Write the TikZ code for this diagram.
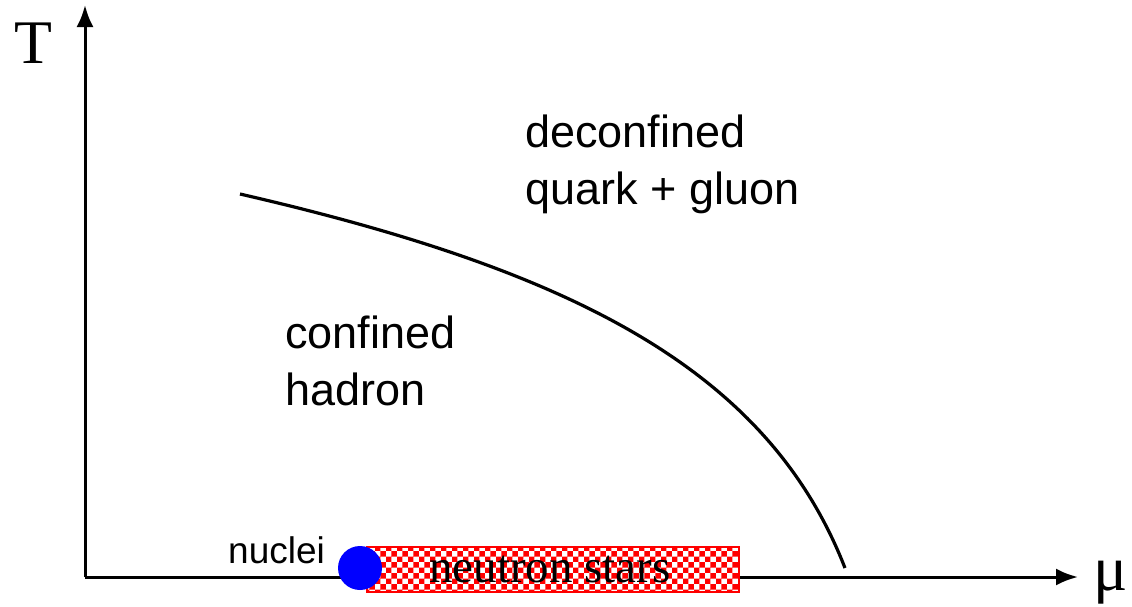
\documentclass[tikz,border=0pt]{standalone}
\usepackage{fontspec}
\setmainfont{Liberation Serif}
\newfontfamily\labelsans{Liberation Sans}
\usetikzlibrary{arrows.meta,patterns}
\begin{document}
\begin{tikzpicture}[x=1pt,y=-1pt,
  axis/.style={line width=3pt,-{Latex[length=22pt,width=17pt]}},
  region/.style={anchor=base west,inner sep=0pt,font=\labelsans\fontsize{45}{56}\selectfont},
  serifbig/.style={inner sep=0pt,anchor=base west}]
\useasboundingbox (0,0) rectangle (1132,606);
\coordinate (O) at (85,577);
\coordinate (Ttip) at (85,5);
\coordinate (Mtip) at (1078,577);
\draw[axis] (O) -- (Ttip);
\draw[axis] (O) -- (Mtip);
\node[serifbig,font=\fontsize{62}{62}\selectfont] (T) at (14,63) {T};
\node[serifbig,font=\fontsize{64}{64}\selectfont] (mu) at (1093,590) {μ};
\coordinate (cstart) at (240,194);
\coordinate (cend) at (845,568);
\draw[line width=3.2pt] (cstart) .. controls (570,270) and (767,368) .. (cend);
\node[region] (deconf1) at (525,147) {deconfined};
\node[region] (deconf2) at (525,204) {quark + gluon};
\node[region] (conf1) at (285,348) {confined};
\node[region] (conf2) at (285,405) {hadron};
\node[region,font=\labelsans\fontsize{37}{40}\selectfont] (nuc) at (228,563) {nuclei};
\fill[white] (367,547) rectangle (739,592);
\path[draw=red,line width=2pt,pattern=checkerboard,pattern color=red] (367,547) rectangle (739,592);
\node[fill=blue,circle,minimum size=44pt,inner sep=0pt] (dot) at (360,568) {};
\node[anchor=base,inner sep=0pt,font=\fontsize{47}{47}\selectfont] (ns) at (550,582) {neutron stars};
\end{tikzpicture}
\end{document}
